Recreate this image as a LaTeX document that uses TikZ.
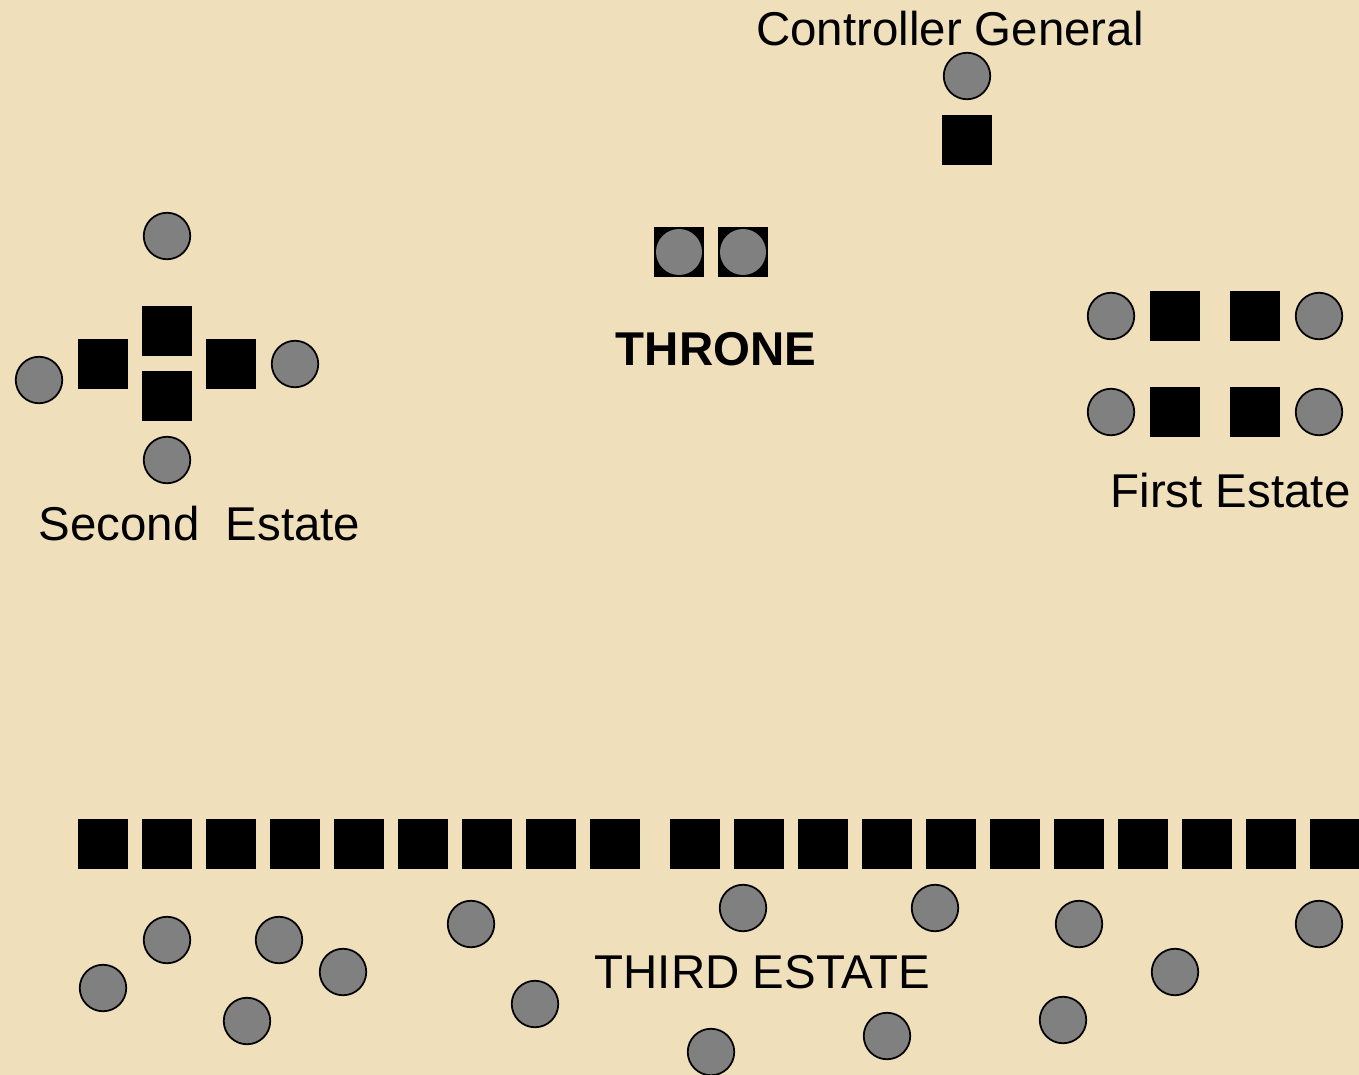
\documentclass[tikz,border=0pt]{standalone}
\usepackage{fontspec}
\setmainfont{Liberation Sans}
\usetikzlibrary{positioning}
\definecolor{parch}{HTML}{EFDFBB}
\definecolor{pawn} {HTML}{808080}
\definecolor{ink}  {HTML}{000000}
\tikzset{
  every node/.style={font=\fontsize{27}{32}\selectfont},
  % --- pieces
  seat/.style  = {rectangle, fill=ink, minimum size=1cm, inner sep=0pt},
  pers/.style  = {circle, fill=pawn, draw=ink, line width=1pt,
                  minimum size=0.93cm, inner sep=0pt},
  royal/.style = {circle, fill=pawn, minimum size=0.92cm, inner sep=0pt},
  % --- texts
  lbl/.style   = {anchor=base, inner sep=0pt, text=ink},
}

\begin{document}
\begin{tikzpicture}[x=0.02cm, y=-0.02cm]
  \fill[parch] (0,0) rectangle (1359,1075);
  \useasboundingbox (0,0) rectangle (1359,1075);

  % controller general
  \node[lbl] (cgtxt) at (950,45) {Controller General};
  \node[pers] (cgp) at (967,76) {};
  \node[seat] (cgs) at (967,140) {};

  % throne
  \node[seat] (th1) at (679,252) {};
  \node[seat] (th2) at (743,252) {};
  \node[royal] (king) at (th1.center) {};
  \node[royal] (queen) at (th2.center) {};
  \node[lbl, font=\fontsize{27}{32}\selectfont\bfseries] (thtxt) at (716,365) {THRONE};

  % second estate
  \node[seat] (s2n) at (167,331) {};
  \node[seat] (s2s) at (167,396) {};
  \node[seat] (s2w) at (103,364) {};
  \node[seat] (s2e) at (231,364) {};
  \node[pers] (p2n) at (167,236) {};
  \node[pers] (p2s) at (167,460) {};
  \node[pers] (p2w) at (39,380) {};
  \node[pers] (p2e) at (295,364) {};
  \node[lbl] (s2txt) at (199.5,540) {Second~ Estate};

  % first estate
  \foreach \y/\r in {316/a,412/b}{
    \node[pers] (p1w\r) at (1111,\y) {};
    \node[seat] (s1w\r) at (1175,\y) {};
    \node[seat] (s1e\r) at (1255,\y) {};
    \node[pers] (p1e\r) at (1319,\y) {};
  }
  \node[lbl] (s1txt) at (1230.5,507) {First Estate};

  % third estate
  \foreach \x [count=\i] in {103,167,...,615}
    \node[seat] (s3a\i) at (\x,844) {};
  \foreach \x [count=\i] in {695,759,...,1335}
    \node[seat] (s3b\i) at (\x,844) {};
  \foreach \x/\y [count=\i] in {103/988,167/940,279/940,343/972,247/1021,
      471/924,535/1004,743/908,711/1052,935/908,887/1036,1079/924,
      1175/972,1063/1020,1319/924}
    \node[pers] (p3\i) at (\x,\y) {};
  \node[lbl] (s3txt) at (762.5,988) {THIRD ESTATE};
\end{tikzpicture}
\end{document}
